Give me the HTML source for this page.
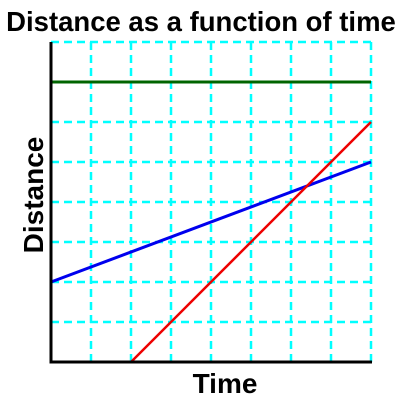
<!DOCTYPE html>
<html><head><style>body{margin:0;background:#fff}svg{display:block}</style></head>
<body>
<svg width="400" height="400" xmlns="http://www.w3.org/2000/svg">
<text x="201" y="31" text-anchor="middle" font-family="Liberation Sans, sans-serif" font-weight="bold" font-size="27.5">Distance as a function of time</text>
<g id="grid"></g>
<g id="series"></g>
<line x1="51" y1="42" x2="51" y2="363" stroke="#000" stroke-width="3"/>
<line x1="49.5" y1="362" x2="372" y2="362" stroke="#000" stroke-width="3"/>
<text x="225" y="393" text-anchor="middle" font-family="Liberation Sans, sans-serif" font-weight="bold" font-size="28">Time</text>
<text transform="translate(43,195) rotate(-90)" text-anchor="middle" font-family="Liberation Sans, sans-serif" font-weight="bold" font-size="28">Distance</text>
</svg>
<script>
const gridTicks = [1,2,3,4,5,6,7,8];
const seriesNames = ['constant','slow','fast'];
const seriesColors = ['#006400','#0000ee','#ee0000'];
const seriesX = [[0,8],[0,8],[2,8]];
const seriesY = [[7,7],[2,5],[0,6]];
const X0=51, Y0=362, U=40;
const sx = v => X0 + v*U;
const sy = v => Y0 - v*U;
const NS='http://www.w3.org/2000/svg';
const grid=document.getElementById('grid');
gridTicks.forEach(t=>{
  const v=document.createElementNS(NS,'line');
  v.setAttribute('x1',sx(t));v.setAttribute('x2',sx(t));v.setAttribute('y1',sy(0));v.setAttribute('y2',sy(8));
  v.setAttribute('stroke','#00ffff');v.setAttribute('stroke-width','2.5');v.setAttribute('stroke-dasharray','8,5');
  
  
  grid.appendChild(v);
  const h=document.createElementNS(NS,'line');
  h.setAttribute('y1',sy(t));h.setAttribute('y2',sy(t));h.setAttribute('x1',sx(0));h.setAttribute('x2',sx(8));
  h.setAttribute('stroke','#00ffff');h.setAttribute('stroke-width','2.5');h.setAttribute('stroke-dasharray','8,5');
  
  
  grid.appendChild(h);
});
const sg=document.getElementById('series');
seriesNames.forEach((n,i)=>{
  const l=document.createElementNS(NS,'polyline');
  l.setAttribute('points',seriesX[i].map((x,j)=>sx(x)+','+sy(seriesY[i][j])).join(' '));
  l.setAttribute('fill','none');l.setAttribute('stroke',seriesColors[i]);l.setAttribute('stroke-width',i===2?'2.5':'3');
  
  
  sg.appendChild(l);
});
</script>
</body></html>
